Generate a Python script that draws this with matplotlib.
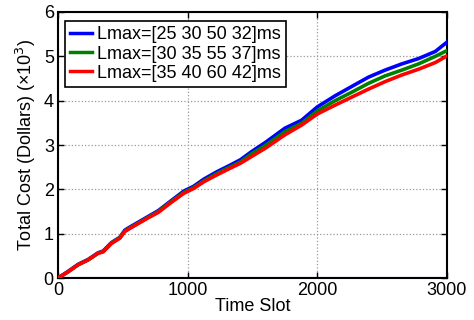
import matplotlib
matplotlib.use("Agg")
import matplotlib.pyplot as plt

plt.rcParams['font.family'] = ['Liberation Sans', 'DejaVu Sans']

time_slots = [0, 77, 155, 232, 309, 348, 412, 477, 515, 554, 619, 696, 773, 866, 969,
              1046, 1124, 1227, 1330, 1408, 1492, 1600, 1750, 1879, 2000, 2137, 2265,
              2394, 2523, 2652, 2781, 2910, 3000]

cost_lmax_25 = [0, 0.15, 0.31, 0.42, 0.57, 0.61, 0.80, 0.92, 1.08, 1.15, 1.26, 1.39, 1.52,
                1.73, 1.96, 2.07, 2.23, 2.40, 2.55, 2.67, 2.85, 3.06, 3.38, 3.56, 3.86,
                4.11, 4.32, 4.53, 4.69, 4.83, 4.95, 5.11, 5.32]
cost_lmax_30 = [0, 0.14, 0.30, 0.41, 0.56, 0.60, 0.79, 0.91, 1.06, 1.13, 1.24, 1.37, 1.50,
                1.71, 1.93, 2.04, 2.19, 2.36, 2.51, 2.62, 2.80, 2.99, 3.30, 3.49, 3.77,
                4.00, 4.19, 4.39, 4.56, 4.69, 4.83, 5.00, 5.13]
cost_lmax_35 = [0, 0.14, 0.30, 0.41, 0.56, 0.59, 0.78, 0.90, 1.05, 1.12, 1.23, 1.36, 1.48,
                1.69, 1.91, 2.02, 2.17, 2.33, 2.48, 2.59, 2.74, 2.93, 3.23, 3.45, 3.70,
                3.90, 4.08, 4.26, 4.43, 4.58, 4.71, 4.86, 5.01]

labels = ['Lmax=[25 30 50 32]ms', 'Lmax=[30 35 55 37]ms', 'Lmax=[35 40 60 42]ms']
colors = ['#0000ff', '#008000', '#ff0000']

baseline_t = [0, 3000]
baseline_v = [0, 0]

x_ticks = [0, 1000, 2000, 3000]
y_ticks = [0, 1, 2, 3, 4, 5, 6]

fig = plt.figure(figsize=(4.74, 3.2), dpi=100)
ax = fig.add_axes([0.1224, 0.131, 0.8206, 0.8315])

ax.plot(baseline_t, baseline_v, color='#0000ff', lw=1.5, zorder=2)
for series, lab, col in zip([cost_lmax_25, cost_lmax_30, cost_lmax_35], labels, colors):
    ax.plot(time_slots, series, color=col, lw=2.6, label=lab, zorder=3)

ax.set_xlim(0, 3000)
ax.set_ylim(0, 6)
ax.set_xticks(x_ticks)
ax.set_yticks(y_ticks)
ax.tick_params(direction='in', top=True, right=True, labelsize=13, length=4, width=1, pad=3)
ax.grid(True, linestyle=':', color='#999999', lw=0.9)
for s in ax.spines.values():
    s.set_linewidth(1.5)

ax.set_xlabel('Time Slot', fontsize=13, labelpad=-1)
ax.set_ylabel('Total Cost (Dollars) (×10$^3$)', fontsize=13, labelpad=4)

leg = ax.legend(loc='upper left', bbox_to_anchor=(0.018, 0.966), borderaxespad=0,
                fontsize=13, handlelength=1.2, handletextpad=0.25,
                borderpad=0.3, labelspacing=0.12, fancybox=False, framealpha=1,
                edgecolor='black')
leg.get_frame().set_linewidth(1.2)
for l in leg.get_lines():
    l.set_linewidth(2.5)

fig.savefig('out.png', dpi=100)
